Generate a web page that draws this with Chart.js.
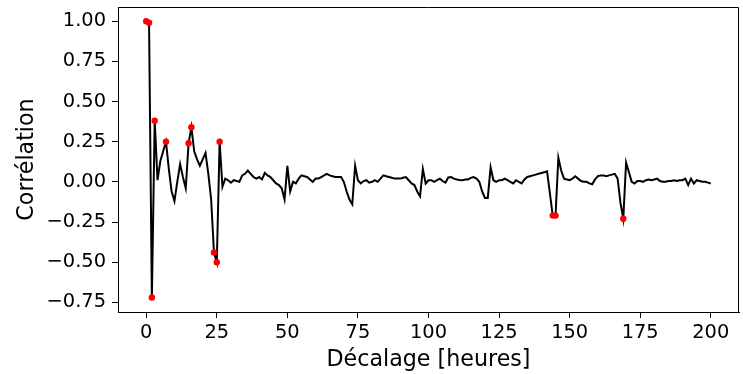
<!DOCTYPE html>
<html>
<head>
<meta charset="utf-8">
<script src="https://cdn.jsdelivr.net/npm/chart.js@4/dist/chart.umd.min.js"></script>
<style>
  body { margin: 0; background: #fff; }
  #wrap { width: 743px; height: 374px; }
</style>
</head>
<body>
<div id="wrap"><canvas id="acfChart" width="743" height="374"></canvas></div>
<script>
// autocorrelation, lag 0..200 (hours)
const acfValues = [
  1.00, 0.99, -0.72, 0.38, 0.01, 0.13, 0.19, 0.25, 0.08, -0.06,       // 0-9
  -0.12, 0.00, 0.11, 0.03, -0.04, 0.24, 0.34, 0.19, 0.14, 0.10,       // 10-19
  0.14, 0.18, 0.05, -0.11, -0.44, -0.50, 0.25, -0.03, 0.02, 0.01,     // 20-29
  -0.005, 0.01, 0.005, 0.00, 0.04, 0.05, 0.07, 0.05, 0.03, 0.02,      // 30-39
  0.03, 0.015, 0.055, 0.04, 0.03, 0.01, -0.01, -0.02, -0.04, -0.11,   // 40-49
  0.10, -0.06, 0.00, -0.01, 0.02, 0.04, 0.035, 0.03, 0.015, 0.00,     // 50-59
  0.02, 0.02, 0.03, 0.04, 0.05, 0.04, 0.035, 0.03, 0.03, 0.03,        // 60-69
  0.00, -0.06, -0.11, -0.14, 0.10, 0.01, -0.01, 0.005, 0.01, -0.005,  // 70-79
  0.00, 0.01, 0.00, 0.02, 0.04, 0.035, 0.03, 0.025, 0.02, 0.02,       // 80-89
  0.02, 0.025, 0.03, 0.01, -0.01, -0.02, -0.06, -0.09, 0.08, -0.01,   // 90-99
  0.01, 0.01, 0.00, 0.01, 0.02, 0.005, -0.005, 0.027, 0.03, 0.02,     // 100-109
  0.015, 0.012, 0.01, 0.015, 0.015, 0.025, 0.03, 0.02, 0.00, -0.06,   // 110-119
  -0.10, -0.10, 0.09, 0.01, 0.00, 0.01, 0.01, 0.02, 0.01, 0.00,       // 120-129
  -0.01, 0.01, 0.00, -0.01, 0.015, 0.03, 0.035, 0.04, 0.045, 0.05,    // 130-139
  0.055, 0.06, 0.065, -0.07, -0.21, -0.21, 0.15, 0.07, 0.02, 0.015,   // 140-149
  0.01, 0.02, 0.035, 0.02, 0.005, 0.00, 0.00, -0.01, -0.015, 0.015,   // 150-159
  0.035, 0.04, 0.04, 0.035, 0.04, 0.045, 0.05, 0.02, -0.13, -0.23,    // 160-169
  0.12, 0.06, 0.00, -0.01, 0.005, 0.005, 0.00, 0.01, 0.015, 0.01,     // 170-179
  0.015, 0.02, 0.005, 0.00, 0.00, 0.005, 0.005, 0.01, 0.005, 0.01,    // 180-189
  0.01, 0.02, -0.02, 0.02, -0.01, 0.01, 0.005, 0.00, 0.00, -0.005,    // 190-199
  -0.01                                                               // 200
];

// lags where the correlation is marked in red
const significantLags = [0, 1, 2, 3, 7, 15, 16, 24, 25, 26, 144, 145, 169];

const xTicks = [0, 25, 50, 75, 100, 125, 150, 175, 200];
const yTicks = [-0.75, -0.5, -0.25, 0, 0.25, 0.5, 0.75, 1.0];

const lineData = acfValues.map((v, lag) => ({ x: lag, y: v }));
const pointData = significantLags.map((lag) => ({ x: lag, y: acfValues[lag] }));

const fontFamily = "'DejaVu Sans', sans-serif";
const tickFont = { family: fontFamily, size: 19.4, lineHeight: 1.2 };
const titleFont = { family: fontFamily, size: 22.2, lineHeight: 1.2 };

// top and right spines
const frame = {
  id: "frame",
  afterDraw(chart) {
    const { ctx, chartArea: a } = chart;
    ctx.save();
    ctx.strokeStyle = "#000";
    ctx.lineWidth = 1;
    ctx.beginPath();
    ctx.moveTo(Math.round(a.left) + 0.5, Math.round(a.top) + 0.5);
    ctx.lineTo(Math.round(a.right) - 0.5, Math.round(a.top) + 0.5);
    ctx.lineTo(Math.round(a.right) - 0.5, Math.round(a.bottom) + 0.5);
    ctx.stroke();
    ctx.restore();
  },
};

const fmt = (v) => v.toFixed(2).replace("-", "\u2212");

new Chart(document.getElementById("acfChart").getContext("2d"), {
  type: "line",
  data: {
    datasets: [
      {
        data: pointData,
        showLine: false,
        pointRadius: 3.2,
        pointBackgroundColor: "#ff0000",
        pointBorderWidth: 0,
        order: 1,
      },
      {
        data: lineData,
        borderColor: "#000",
        borderWidth: 2,
        pointRadius: 0,
        tension: 0,
        order: 2,
      },
    ],
  },
  options: {
    responsive: false,
    animation: false,
    devicePixelRatio: 1,
    layout: { padding: { top: 7, right: 1, left: 0, bottom: 0 } },
    plugins: { legend: { display: false }, tooltip: { enabled: false } },
    scales: {
      x: {
        type: "linear",
        min: -10,
        max: 210,
        afterBuildTicks: (s) => { s.ticks = xTicks.map((v) => ({ value: v })); },
        afterFit: (s) => { s.height = 62; s.paddingLeft = 0; s.paddingRight = 0; },
        grid: { drawOnChartArea: false, tickLength: 6, tickColor: "#000", tickWidth: 1 },
        border: { color: "#000", width: 1 },
        ticks: { color: "#000", font: tickFont, padding: 3, maxRotation: 0, autoSkip: false,
                 callback: (v) => String(v) },
        title: { display: true, text: "Décalage [heures]", color: "#000", font: titleFont,
                 padding: { top: 0, bottom: 0 } },
      },
      y: {
        type: "linear",
        min: -0.81,
        max: 1.088,
        afterBuildTicks: (s) => { s.ticks = yTicks.map((v) => ({ value: v })); },
        afterFit: (s) => { s.width = 118; s.paddingTop = 0; s.paddingBottom = 0; },
        grid: { drawOnChartArea: false, tickLength: 6, tickColor: "#000", tickWidth: 1 },
        border: { color: "#000", width: 1 },
        ticks: { color: "#000", font: tickFont, padding: 6, autoSkip: false, callback: (v) => fmt(v) },
        title: { display: true, text: "Corrélation", color: "#000", font: titleFont,
                 padding: { top: 14, bottom: 0 } },
      },
    },
  },
  plugins: [frame],
});
</script>
</body>
</html>
